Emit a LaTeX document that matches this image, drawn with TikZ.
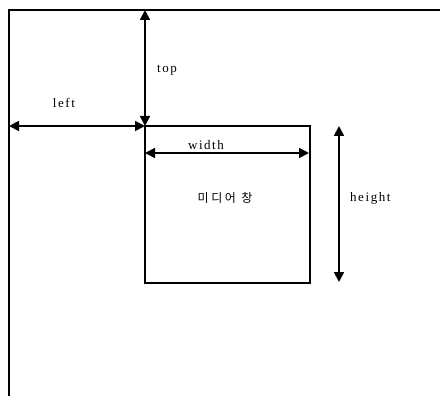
\documentclass[tikz,border=0pt]{standalone}
\usepackage{fontspec}
\setmainfont{Liberation Serif}[LetterSpace=12]
\newfontfamily\kofont{Noto Sans CJK KR}[LetterSpace=22]
\usetikzlibrary{arrows.meta}
\begin{document}
\begin{tikzpicture}[x=1pt,y=-1pt,
  frame/.style={line width=1.5pt,line cap=rect},
  dim/.style={line width=1.8pt,{Triangle[length=10pt,width=10pt]}-{Triangle[length=10pt,width=10pt]}},
  lbl/.style={font=\fontsize{13}{15}\selectfont,inner sep=1pt}]
\useasboundingbox (0,0) rectangle (440,396);
% outer window (open at right and bottom)
\coordinate (tl) at (9,10);
\coordinate (tr) at (440,10);
\coordinate (bl) at (9,395);
\draw[frame] (tr) -- (tl) -- (bl);
% media window
\coordinate (mtl) at (145,126);
\coordinate (mbr) at (310,283);
\draw[frame] (mtl) rectangle (mbr);
\node[lbl,font=\kofont\fontsize{12}{14}\selectfont] (mname) at (225,198) {미디어 창};
% top
\coordinate (topA) at (145,10);
\draw[dim] (topA) -- (mtl);
\node[lbl,anchor=west] (ltop) at (156,70) {top};
% left
\coordinate (leftA) at (9,126);
\draw[dim] (leftA) -- (mtl);
\node[lbl] (lleft) at (64,103) {left};
% width
\coordinate (wA) at (145,153);
\coordinate (wB) at (309,153);
\draw[dim] (wA) -- (wB);
\node[lbl] (lwidth) at (206,145) {width};
% height
\coordinate (hA) at (339,126);
\coordinate (hB) at (339,282);
\draw[dim] (hA) -- (hB);
\node[lbl,anchor=west] (lheight) at (349,198) {height};
\end{tikzpicture}
\end{document}
